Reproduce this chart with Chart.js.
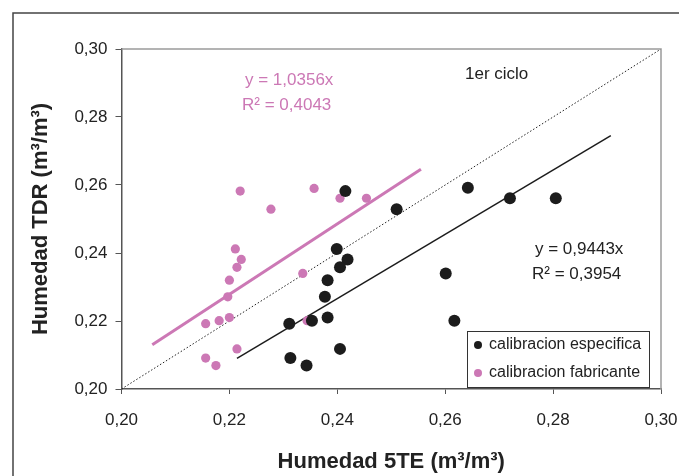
<!DOCTYPE html>
<html>
<head>
<meta charset="utf-8">
<script src="https://cdn.jsdelivr.net/npm/chart.js@4/dist/chart.umd.min.js"></script>
<style>
  html, body { margin: 0; padding: 0; background: #fff; }
  canvas { display: block; }
</style>
</head>
<body>
<canvas id="grafico" width="679" height="476"></canvas>
<script>
// calibracion especifica (negro)
var especX = [0.2415, 0.2399, 0.2419, 0.2405, 0.2382, 0.2377, 0.2382, 0.2353, 0.2311, 0.2405, 0.2313, 0.2343, 0.2510, 0.2642, 0.2720, 0.2805, 0.2601, 0.2617];
var especY = [0.2582, 0.2412, 0.2381, 0.2358, 0.2320, 0.2271, 0.2210, 0.2201, 0.2192, 0.2118, 0.2091, 0.2069, 0.2529, 0.2592, 0.2561, 0.2561, 0.2340, 0.2201];
// calibracion fabricante (rosa)
var fabX = [0.2220, 0.2357, 0.2405, 0.2454, 0.2277, 0.2211, 0.2222, 0.2214, 0.2200, 0.2197, 0.2336, 0.2156, 0.2181, 0.2200, 0.2344, 0.2214, 0.2156, 0.2175];
var fabY = [0.2582, 0.2590, 0.2561, 0.2561, 0.2529, 0.2412, 0.2381, 0.2358, 0.2320, 0.2271, 0.2340, 0.2192, 0.2201, 0.2210, 0.2201, 0.2118, 0.2091, 0.2069];
// lineas de tendencia (extremos)
var tendFabX = [0.2057, 0.2555];
var tendFabY = [0.2130, 0.2646];
var tendEspX = [0.2214, 0.2907];
var tendEspY = [0.2090, 0.2745];
// linea 1:1
var unoX = [0.20, 0.30];
var unoY = [0.20, 0.30];
var ticksEje = [0.20, 0.22, 0.24, 0.26, 0.28, 0.30];

var rosa = '#CC78B5';
var negro = '#1c1c1c';

function pares(xs, ys) {
    return xs.map(function (x, i) { return {x: x, y: ys[i]}; });
}
function coma(v) {
    return v.toFixed(2).replace('.', ',');
}

var textos = {
    id: 'textos',
    beforeDraw: function (chart) {
        var ctx = chart.ctx;
        ctx.save();
        ctx.strokeStyle = '#444';
        ctx.lineWidth = 1.5;
        ctx.strokeRect(13, 13, 720, 520);
        ctx.restore();
    },
    afterDraw: function (chart) {
        var ctx = chart.ctx;
        var a = chart.chartArea;
        ctx.save();
        // borde gris superior y derecho
        ctx.strokeStyle = '#9a9a9a';
        ctx.lineWidth = 1.5;
        ctx.beginPath();
        ctx.moveTo(a.left, a.top);
        ctx.lineTo(a.right, a.top);
        ctx.lineTo(a.right, a.bottom);
        ctx.stroke();

        ctx.font = '17px "Liberation Sans", Arial, sans-serif';
        ctx.textBaseline = 'middle';
        ctx.textAlign = 'left';
        ctx.fillStyle = rosa;
        ctx.fillText('y = 1,0356x', 245, 80);
        ctx.fillText('R² = 0,4043', 242, 105);
        ctx.fillStyle = '#222';
        ctx.fillText('1er ciclo', 465, 74);
        ctx.fillText('y = 0,9443x', 535, 249);
        ctx.fillText('R² = 0,3954', 532, 274);

        // leyenda
        ctx.fillStyle = '#fff';
        ctx.fillRect(467.5, 331.5, 182, 56);
        ctx.strokeStyle = '#333';
        ctx.lineWidth = 1;
        ctx.strokeRect(467.5, 331.5, 182, 56);
        ctx.font = '16px "Liberation Sans", Arial, sans-serif';
        var items = [['calibracion especifica', negro, 345], ['calibracion fabricante', rosa, 373]];
        items.forEach(function (it) {
            ctx.fillStyle = it[1];
            ctx.beginPath();
            ctx.arc(478, it[2], 4, 0, Math.PI * 2);
            ctx.fill();
            ctx.fillStyle = '#222';
            ctx.fillText(it[0], 489, it[2]);
        });
        ctx.restore();
    }
};

var ctx = document.getElementById('grafico');
var grafico = new Chart(ctx, {
    type: 'scatter',
    data: {
        datasets: [{
            label: 'calibracion especifica',
            data: pares(especX, especY),
            pointRadius: 6,
            pointHoverRadius: 6,
            backgroundColor: negro,
            borderWidth: 0,
            order: 0
        }, {
            label: 'calibracion fabricante',
            data: pares(fabX, fabY),
            pointRadius: 4.6,
            pointHoverRadius: 4.6,
            backgroundColor: rosa,
            borderWidth: 0,
            order: 1
        }, {
            label: 'tendencia fabricante',
            data: pares(tendFabX, tendFabY),
            showLine: true,
            pointRadius: 0,
            borderColor: rosa,
            borderWidth: 3,
            order: 2
        }, {
            label: 'tendencia especifica',
            data: pares(tendEspX, tendEspY),
            showLine: true,
            pointRadius: 0,
            borderColor: negro,
            borderWidth: 1.5,
            order: 3
        }, {
            label: '1:1',
            data: pares(unoX, unoY),
            showLine: true,
            pointRadius: 0,
            borderColor: '#222',
            borderWidth: 1,
            borderDash: [1.5, 2],
            order: 4
        }]
    },
    options: {
        responsive: false,
        devicePixelRatio: 1,
        animation: false,
        layout: { padding: { left: 0, top: 49, right: 18, bottom: 0 } },
        plugins: {
            legend: { display: false },
            tooltip: { enabled: false }
        },
        scales: {
            x: {
                type: 'linear',
                min: 0.20,
                max: 0.30,
                afterBuildTicks: function (s) { s.ticks = ticksEje.map(function (v) { return {value: v}; }); },
                afterFit: function (s) { s.height = 87; s.paddingLeft = 0; s.paddingRight = 0; },
                ticks: {
                    callback: function (v) { return coma(v); },
                    color: '#222',
                    padding: 16,
                    maxRotation: 0,
                    font: { family: '"Liberation Sans", Arial, sans-serif', size: 17 }
                },
                grid: { drawOnChartArea: false, tickLength: 5, color: '#555', lineWidth: 1 },
                border: { color: '#555', width: 1.5 },
                title: {
                    display: true,
                    text: 'Humedad 5TE (m³/m³)',
                    color: '#222',
                    padding: { top: 0, bottom: 1 },
                    font: { family: '"Liberation Sans", Arial, sans-serif', size: 22, weight: 'bold' }
                }
            },
            y: {
                type: 'linear',
                min: 0.20,
                max: 0.30,
                afterBuildTicks: function (s) { s.ticks = ticksEje.map(function (v) { return {value: v}; }); },
                afterFit: function (s) { s.width = 121.5; s.paddingTop = 0; s.paddingBottom = 0; },
                ticks: {
                    callback: function (v) { return coma(v); },
                    color: '#222',
                    padding: 8,
                    font: { family: '"Liberation Sans", Arial, sans-serif', size: 17 }
                },
                grid: { drawOnChartArea: false, tickLength: 6, color: '#555', lineWidth: 1 },
                border: { color: '#555', width: 1.5 },
                title: {
                    display: true,
                    text: 'Humedad TDR (m³/m³)',
                    color: '#222',
                    padding: { top: 28, bottom: 0 },
                    font: { family: '"Liberation Sans", Arial, sans-serif', size: 22, weight: 'bold' }
                }
            }
        }
    },
    plugins: [textos]
});
</script>
</body>
</html>
